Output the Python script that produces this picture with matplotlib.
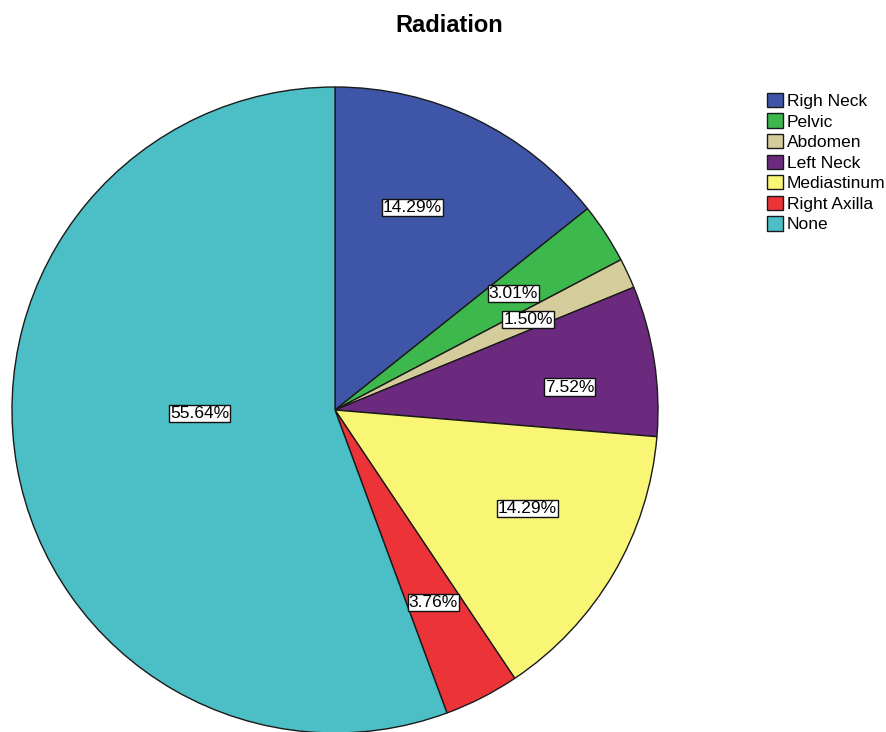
"""Radiation site distribution pie chart."""

import matplotlib

matplotlib.use("Agg")

import matplotlib.pyplot as plt  # noqa: E402
import numpy as np  # noqa: E402

plt.rcParams["font.family"] = ["Liberation Sans", "DejaVu Sans"]

SITES = ["Righ Neck", "Pelvic", "Abdomen", "Left Neck", "Mediastinum", "Right Axilla", "None"]
PERCENTS = [14.29, 3.01, 1.50, 7.52, 14.29, 3.76, 55.64]
COLORS = ["#3f56a8", "#3cb84c", "#d5cc9b", "#6c2a7e", "#f9f675", "#ec3338", "#4bbfc5"]
# placement of each percentage label: fraction of the radius, and
# angular nudge (degrees) away from the wedge's mid-angle
LABEL_RADII = [0.67, 0.66, 0.66, 0.73, 0.67, 0.67, 0.42]
LABEL_NUDGE = [4.8, 0.0, 0.0, -3.2, 3.3, 0.0, -8.7]

W, H = 887, 732
CENTER = (335, H - 410)
RADIUS = 323

fig = plt.figure(figsize=(W / 100, H / 100), dpi=100)
ax = fig.add_axes([0, 0, 1, 1])
ax.set_xlim(0, W)
ax.set_ylim(0, H)
ax.set_aspect("equal")

wedges, _ = ax.pie(
    PERCENTS,
    colors=COLORS,
    startangle=90,
    counterclock=False,
    center=CENTER,
    radius=RADIUS,
    wedgeprops=dict(edgecolor="#1a1a1a", linewidth=1.0),
    frame=True,
)
ax.axis("off")

for w, pct, frac, nudge in zip(wedges, PERCENTS, LABEL_RADII, LABEL_NUDGE):
    mid = np.deg2rad((w.theta1 + w.theta2) / 2 + nudge)
    x = CENTER[0] + frac * RADIUS * np.cos(mid)
    y = CENTER[1] + frac * RADIUS * np.sin(mid)
    ax.text(
        x, y, f"{pct:.2f}%",
        ha="center", va="center", fontsize=12.5,
        bbox=dict(boxstyle="square,pad=0.06", facecolor="white",
                  edgecolor="#111111", linewidth=1.0),
    )

fig.text(449 / W, 1 - 25 / H, "Radiation", ha="center", va="center",
         fontsize=17, fontweight="bold")

fig.legend(
    wedges, SITES,
    loc="upper left", bbox_to_anchor=(760 / W, 1 - 86 / H),
    frameon=False, fontsize=12.5, handlelength=0.9, handleheight=0.9,
    handletextpad=0.25, labelspacing=0.25, borderaxespad=0,
)

fig.savefig("out.png", dpi=100)
